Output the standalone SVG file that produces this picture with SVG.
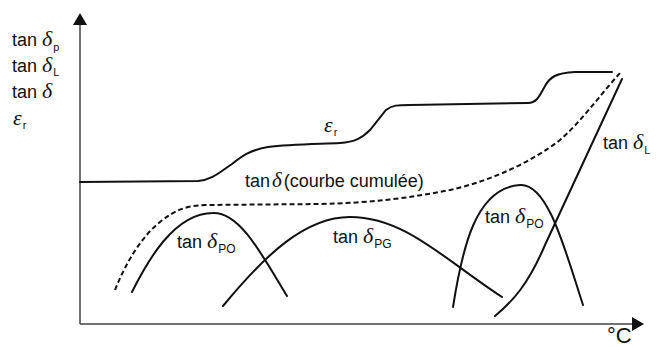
<svg xmlns="http://www.w3.org/2000/svg" width="657" height="347" viewBox="0 0 657 347">
<style>
.t{font-family:"Liberation Sans",Arial,sans-serif;font-size:18px;fill:#111}
.g{font-family:"Liberation Serif","Times New Roman",serif;font-style:italic;font-size:22px}
.s{font-size:11px}
.s2{font-size:12px}
.c{fill:none;stroke:#111;stroke-width:2;stroke-linecap:round}
.d{fill:none;stroke:#111;stroke-width:2;stroke-dasharray:5 3}
.ax{fill:none;stroke:#444;stroke-width:1.5}
</style>
<rect width="657" height="347" fill="#fff"/>
<g id="axes">
<path class="ax" d="M80,324 V22 M80,324 H634"/>
<polygon points="80,13 73,25 87,25" fill="#111"/>
<polygon points="644,324 632,317 632,331" fill="#111"/>
<text class="t" x="607" y="343" style="font-size:22px">°C</text>
</g>
<g id="legend">
<text class="t" x="12" y="46">tan <tspan class="g">δ</tspan><tspan class="s" dx="1" dy="5">p</tspan></text>
<text class="t" x="12" y="72">tan <tspan class="g">δ</tspan><tspan class="s" dx="1" dy="4">L</tspan></text>
<text class="t" x="12" y="98">tan <tspan class="g">δ</tspan></text>
<text class="t" x="13" y="125"><tspan class="g">ε</tspan><tspan class="s" dx="1" dy="4">r</tspan></text>
</g>
<g id="connectors">
<path id="epsr" class="c" d="M80,182 L198,181 C212,180 220,172 232,164 C242,156 250,150 268,147 C290,144 320,144 340,143 C355,142 362,138 370,130 L386,110 C392,105 398,105 410,105 L528,103 C537,103 540,95 545,86 C550,77 556,73 575,72 L612,72"/>
<path id="cumul" class="d" d="M115,290 C125,265 140,238 160,222 C175,210 185,206 205,205 L320,204 C370,203 410,198 450,190 C490,181 530,163 560,140 C580,123 600,95 620,73"/>
<path id="po1" class="c" d="M132,292 C147,262 174,213 213,213 C240,212 262,255 287,296"/>
<path id="pg" class="c" d="M223,306 C265,255 305,217 350,217 C405,217 445,260 502,297"/>
<path id="po2" class="c" d="M453,307 C462,250 475,188 520,185 C548,183 565,250 583,305"/>
<path id="tl" class="c" d="M495,316 C512,302 528,285 545,245 L622,79"/>
</g>
<g id="labels">
<text class="t" x="324" y="132"><tspan class="g">ε</tspan><tspan class="s" dx="1" dy="4">r</tspan></text>
<text class="t" x="245" y="187" style="font-size:18px">tan<tspan class="g" dx="2" style="font-size:21px">δ</tspan><tspan dx="2">(courbe cumulée)</tspan></text>
<text class="t" x="177" y="248">tan <tspan class="g">δ</tspan><tspan class="s2" dx="1" dy="5">PO</tspan></text>
<text class="t" x="333" y="243">tan <tspan class="g">δ</tspan><tspan class="s2" dx="1" dy="5">PG</tspan></text>
<text class="t" x="485" y="223">tan <tspan class="g">δ</tspan><tspan class="s2" dx="1" dy="5">PO</tspan></text>
<text class="t" x="603" y="149">tan <tspan class="g">δ</tspan><tspan class="s" dx="1" dy="5">L</tspan></text>
</g>
</svg>
